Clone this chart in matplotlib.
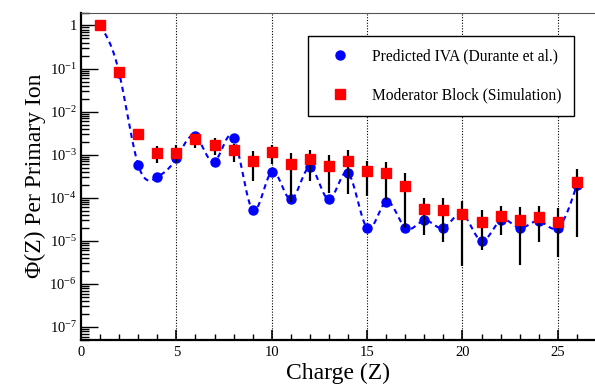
import numpy as np
import matplotlib
matplotlib.use("Agg")
import matplotlib.pyplot as plt
from matplotlib.ticker import FixedLocator, FuncFormatter, LogLocator, NullFormatter


# ----------------------------
# Data
# ----------------------------
charge = np.arange(1, 27)

iva_pred = [1.0, 0.08, 5.8e-4, 3.0e-4, 8.2e-4, 2.7e-3, 6.9e-4, 2.5e-3, 5.2e-5, 4.0e-4,
            9.2e-5, 5.1e-4, 9.2e-5, 3.8e-4, 2.0e-5, 8.1e-5, 2.0e-5, 3.0e-5, 2.0e-5, 4.2e-5,
            1.0e-5, 3.0e-5, 2.0e-5, 2.9e-5, 2.0e-5, 2.0e-4]

block_sim = [1.0, 0.081, 3.0e-3, 1.1e-3, 1.1e-3, 2.3e-3, 1.7e-3, 1.3e-3, 7.1e-4, 1.15e-3,
             6.1e-4, 7.8e-4, 5.5e-4, 7.1e-4, 4.2e-4, 3.7e-4, 1.9e-4, 5.5e-5, 5.1e-5, 4.2e-5,
             2.8e-5, 3.8e-5, 3.0e-5, 3.6e-5, 2.8e-5, 2.3e-4]

block_hi = [1.05, 0.085, 3.6e-3, 1.6e-3, 1.7e-3, 3.0e-3, 2.4e-3, 1.8e-3, 1.2e-3, 1.7e-3,
            1.1e-3, 1.3e-3, 1.0e-3, 1.3e-3, 7.2e-4, 6.6e-4, 3.7e-4, 9.7e-5, 9.7e-5, 8.3e-5,
            5.1e-5, 6.3e-5, 6.1e-5, 6.4e-5, 5.7e-5, 4.6e-4]

block_lo = [0.95, 0.077, 2.5e-3, 6.5e-4, 6.3e-4, 1.4e-3, 1.0e-3, 6.9e-4, 2.5e-4, 6.0e-4,
            8.1e-5, 2.4e-4, 1.3e-4, 1.2e-4, 1.1e-4, 8.8e-5, 2.0e-5, 1.35e-5, 9.6e-6, 2.6e-6,
            6.3e-6, 1.35e-5, 2.7e-6, 9.6e-6, 4.2e-6, 1.2e-5]

x_ticks = [0, 5, 10, 15, 20, 25]
y_decades = [-7, -6, -5, -4, -3, -2, -1, 0]


# ----------------------------
# Helpers
# ----------------------------
def natural_spline(x, y, xs):
    # natural cubic spline through (x, y), evaluated at xs
    x = np.asarray(x, float)
    y = np.asarray(y, float)
    n = len(x)
    h = np.diff(x)
    A = np.zeros((n, n))
    b = np.zeros(n)
    A[0, 0] = 1.0
    A[-1, -1] = 1.0
    for i in range(1, n - 1):
        A[i, i - 1] = h[i - 1]
        A[i, i] = 2 * (h[i - 1] + h[i])
        A[i, i + 1] = h[i]
        b[i] = 3 * ((y[i + 1] - y[i]) / h[i] - (y[i] - y[i - 1]) / h[i - 1])
    c = np.linalg.solve(A, b)
    idx = np.clip(np.searchsorted(x, xs) - 1, 0, n - 2)
    dx = xs - x[idx]
    hi = h[idx]
    bb = (y[idx + 1] - y[idx]) / hi - hi * (2 * c[idx] + c[idx + 1]) / 3
    dd = (c[idx + 1] - c[idx]) / (3 * hi)
    return y[idx] + bb * dx + c[idx] * dx ** 2 + dd * dx ** 3


def log_label(v, pos):
    e = int(round(np.log10(v)))
    if e == 0:
        return "1"
    return r"$\mathregular{10^{%d}}$" % e


# ----------------------------
# Plot
# ----------------------------
plt.rcParams["font.family"] = ["Liberation Serif", "DejaVu Serif"]
plt.rcParams["mathtext.fontset"] = "stix"

fig = plt.figure(figsize=(5.95, 3.86), dpi=100)
ax = fig.add_axes([81 / 595, 1 - 340 / 386, 1 - 81 / 595, (340 - 12.5) / 386])

iva = np.array(iva_pred)
sim = np.array(block_sim)
yerr = np.vstack([sim - np.array(block_lo), np.array(block_hi) - sim])

# smooth dashed curve through the predicted points (in log space)
xs = np.linspace(charge[0], charge[-1], 600)
ys = 10 ** natural_spline(charge, np.log10(iva), xs)
ax.plot(xs, ys, color="blue", lw=1.5, ls=(0, (2.5, 2.0)), zorder=2)

ax.plot(charge, iva, "o", color="blue", ms=6.5, mec="blue", zorder=3,
        label="Predicted IVA (Durante et al.)")
ax.errorbar(charge, sim, yerr=yerr, fmt="none", ecolor="black", elinewidth=1.6,
            capsize=0, zorder=4)
ax.plot(charge, sim, "s", color="red", ms=7.2, mec="red", zorder=5,
        label="Moderator Block (Simulation)")

ax.set_yscale("log")
ax.set_xlim(0, 26.95)
ax.set_ylim(5e-8, 2.0)

for xv in x_ticks[1:]:
    ax.axvline(xv, color="black", lw=0.8, ls=(0, (1, 1.5)), zorder=1)

ax.xaxis.set_major_locator(FixedLocator(x_ticks))
ax.xaxis.set_minor_locator(FixedLocator(list(range(0, 27))))
ax.yaxis.set_major_locator(FixedLocator([10.0 ** e for e in y_decades]))
ax.yaxis.set_minor_locator(LogLocator(base=10, subs=np.arange(2, 10), numticks=20))
ax.yaxis.set_major_formatter(FuncFormatter(log_label))
ax.yaxis.set_minor_formatter(NullFormatter())

ax.tick_params(axis="x", which="major", direction="in", length=7, width=1.2,
               labelsize=10.5, pad=4, top=False)
ax.tick_params(axis="x", which="minor", direction="in", length=4, width=1.0, top=False)
ax.tick_params(axis="y", which="major", direction="in", length=12, width=1.0,
               labelsize=10.5, pad=3, right=False)
ax.tick_params(axis="y", which="minor", direction="in", length=6, width=1.0, right=False)

ax.spines["right"].set_visible(False)
ax.spines["top"].set_color("#555555")
ax.spines["top"].set_linewidth(0.8)
ax.spines["left"].set_linewidth(1.6)
ax.spines["bottom"].set_linewidth(1.6)

ax.set_xlabel("Charge (Z)", fontsize=17, labelpad=3)
ax.set_ylabel("Φ(Z) Per Primary Ion", fontsize=17, labelpad=2)

leg = ax.legend(loc="upper right", bbox_to_anchor=((574 - 81) / 514, 1 - (36 - 12.5) / 327.5),
                fontsize=11.2, frameon=True, fancybox=False, borderpad=0.8,
                labelspacing=1.5, handletextpad=0.77, handlelength=2.57,
                borderaxespad=0)
leg.get_frame().set_edgecolor("black")
leg.get_frame().set_linewidth(1.0)
leg.get_frame().set_alpha(1.0)

fig.savefig("out.png", dpi=100)
